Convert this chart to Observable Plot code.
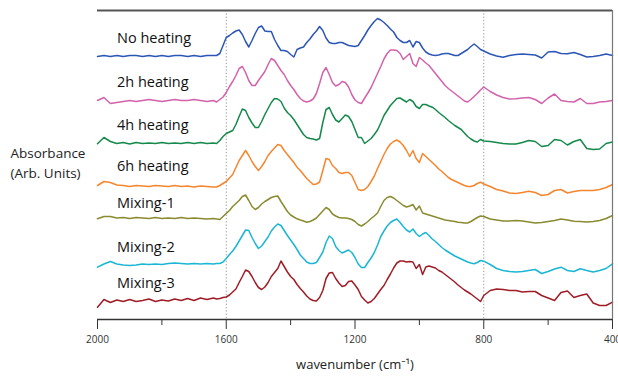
<!DOCTYPE html>
<html><head><meta charset="utf-8">
<script src="https://cdn.jsdelivr.net/npm/d3@7"></script>
<script src="https://cdn.jsdelivr.net/npm/@observablehq/plot@0.6"></script>
<style>html,body{margin:0;padding:0;background:#fff;} svg{display:block}</style>
</head><body><div id="chart"></div>
<script>
const wavenumbers = [
2000,1980,1960,1940,1920,1900,1880,1860,1840,1820,1800,1780,1760,1740,1720,1700,1680,1660,1640,
1630,1620,1610,1600,1590,1580,1570,1560,1550,
1540,1530,1520,1510,1500,1490,1480,1470,1460,1450,
1440,1430,1420,1410,1400,1390,1380,1370,1360,1350,
1340,1330,1320,1310,1300,1290,1280,1270,1260,1250,
1240,1230,1220,1210,1200,1190,1180,1170,1160,1150,
1140,1130,1120,1110,1100,1090,1080,1070,1060,1050,
1040,1030,1020,1010,1000,990,980,970,960,950,
940,930,920,910,900,890,880,870,860,850,
840,830,820,810,800,
780,760,740,720,700,680,660,640,620,600,580,560,540,520,500,480,460,440,420,400];

const noHeating = [
263,264,263,264,263,264,264,263,264,263,264,263,264,264,263,264,263,264,264,
264,266,274,282,284,286.5,288.5,289.5,285,
278,272.5,279,286,292,293.5,288.5,288,288,280,
274,269,269,268,265,262.5,270,271.5,272.5,277,
280.5,285,288.5,293,289,281.5,277,276,276,277,
277,275.5,274,273.5,273,274,279,284,289.5,294,
298,301,299.5,297,294,290.5,287.5,282,279,277,
277,279,272.5,278,277,271.5,267.5,265.5,264.5,264,
264.5,265.5,266,266,265,264,264,266,268,270,
273,275.5,273,270,268.5,
265.5,263.5,262.3,264,265,265.5,265,264.5,261.5,267.5,268,266,265.7,267,265,262.5,263,264,265.5,264];

const heating2h = [
219,222,216,217,218,219,218,219,220,219,218,219,220,219,219,220,219,218,219,
217.5,220,222.5,227,233,238,244,251,253,
247,239,234,234,239,243.5,248,255,261,259,
254,249,245,239,234,230,225,221,218.5,217.5,
218.5,220.5,226,236,247,252,245,237,233.5,235,
238,237,232.5,225,219.5,217,216,221.5,226.5,232,
239,246,253,260.5,266,269.5,269.5,269,266,260,
263,266,256,253,262,259.5,256.5,254,250,246,
242,238,234,231,228.5,226,223.5,221,218.5,217.5,
220,223,226,229.5,232.5,
228,224.5,222,220.5,220.7,221.5,222,220,216,221.5,225.5,219,218,217.5,221,216,216,217.5,218,219];

const heating4h = [
175.7,182,178,176,177,175.5,177,176,176.5,176,177,176,176.5,176,177,176,177,176,176.5,
176,179,183,186,187.5,189,195,203,210.5,
209,202,196.5,192,192,198,205,211,217,221,
220.5,218,211.5,207,204,200,195,190,185,182,
181,180.5,179.5,181,197,210,212,205,199.5,197.5,
201,204.5,203,198,190,182,182,176,178.5,181,
185,189.5,196.5,204,209,214,217.5,221,221.5,219.5,
217.5,220,218,213,211,215,215,213.5,212.3,210,
207,204.5,202,199,196.5,194,192,190,186.5,183,
180.5,178.5,177.5,180,178.5,
178,177,176,175.5,175.5,177,179,178,173,174,180,179,174.5,178,180,171,170,170.5,176,177.5];

const heating6h = [
134,138,137,134.5,134,133,134,133.5,133,134,133.5,133,134,133,133.5,132.5,133.5,133,132.5,
132.5,134,136,138,141.5,145,152,159,164,
169,164,158,153,149,153,158,164,168,171.5,
175,174,169,165,161,157,152.3,149,145,141,
138,135,135.5,137.5,149,161,160,154,151,147,
146,147,147,144,137,130,129,130,133,138,
143.5,151,158,165,171,175.5,178,179.5,177.5,174,
169,163,169,161,157,166,163,160,157,154,
150.5,148,145,142,140,138.5,137,135.5,134,133,
133,134,136,137.3,135.5,
133,130,128.5,126.5,126,127,128.3,127,124,125,129,130,126.5,128,129,129,129,130,132,135];

const mixing1 = [
100.7,103,103,101.5,102,101,102,101.5,101,102,101,101.5,101,102,101,101.5,101,100.5,101,
100.5,100,103,106,109,113,116,119,123,
124.5,119,113,110,112,115.5,118,120,122,123,
123.5,118,113,108,104.5,102.5,100.7,99.5,98.5,97.3,
98,99.5,101.5,105,108.5,112,110,105.5,103.5,102,
101.5,101.5,101,100,98,95,93.5,95.5,98,101,
103.5,106.5,113,119,122,123,121.5,119,116.5,114,
112.5,113.5,115,109.5,113.5,106.5,105.5,104.5,103.5,102.5,
101.5,100.5,99.5,99,98.5,98,97.3,97,96.5,96.5,
98,100,102,103.5,103,
100.5,99.5,98.5,98.5,99,98.5,97.5,96.5,97,98,99,100.5,99.5,98.3,98,97.5,98,99,101,104];

const mixing2 = [
52.3,55.5,58,55.5,54.5,54,54.5,55.5,55,55.5,55,56,56.5,56,55.5,56,55.5,56,55.5,
56,56,57.5,61,65,68.5,73,78.5,84,
89.5,89,82,76,71,73.5,78,82.5,88.5,92.5,
95.5,94,89,84,79.5,75,70,64.5,61,57.5,
56,56,57,62,67.5,77,83.5,81,73,69,
66.5,68,69.5,67,62,55.5,52,52,57,61.5,
67,74.5,83,88.5,93.5,97,99,100.5,97,93,
89.5,87.5,90.5,86,83,85.5,87,84,80.5,78,
75,72,69.5,67.5,65.5,63.5,62,60.5,59,57.5,
56.5,55.7,57,59,58.3,
55,51,49,48,47.5,48,49,50,46,48,50.5,52.3,49,48,50.7,49,47.5,49,51,55.7];

const mixing3 = [
12.3,20,17,19.5,18,20,18,19,20.5,18,19.5,18.5,20.5,19,21,19,21.5,20,21.5,
20.5,21,22,22.5,24.5,27.5,30.5,37,43,
49.5,48,43,37,32,30,32.5,37,43,47,
51,58.5,53,47.5,43,40,35,31,27.5,23.5,
20.5,19,18.5,22,29,41,46.5,47,41,36.5,
33,34,38,38.5,34.5,30,23,19.5,16.5,18,
21,25.5,30,34,40,45.5,51.5,56.5,58.5,58.5,
57.5,58,57.5,51,55,45,52.5,53.5,52.5,51.5,
49,47.5,45,42.5,40,37.5,34.5,32,29.5,27.5,
25.5,23,20.5,18,24,
29,30.5,30,29,29,27.5,28,28,24,21.5,19,27,28.5,22,24,25.5,16.5,14,14,17.3];

const seriesNames = ["No heating", "2h heating", "4h heating", "6h heating", "Mixing-1", "Mixing-2", "Mixing-3"];
const seriesColors = ["#2c56b6", "#d262aa", "#15894a", "#f5862e", "#8a8a30", "#1ab6d3", "#9e1d26"];
const labelLevels = [281, 237, 194, 153.5, 116, 72, 36.5];
const majorTicks = [2000, 1600, 1200, 800, 400];
const minorTicks = [1800, 1400, 1000, 600];
const guideLines = [1600, 800];

const seriesValues = [noHeating, heating2h, heating4h, heating6h, mixing1, mixing2, mixing3];
const rows = seriesValues.flatMap((vals, i) =>
  vals.map((v, j) => ({series: seriesNames[i], wn: wavenumbers[j], a: v})));

const chart = Plot.plot({
  width: 618, height: 376,
  marginLeft: 97, marginRight: 6, marginTop: 10, marginBottom: 57,
  x: {domain: [2000, 400], axis: null},
  y: {domain: [0, 309], axis: null},
  color: {domain: seriesNames, range: seriesColors},
  style: {fontFamily: "'Open Sans', 'Noto Sans', sans-serif", background: "#fff", color: "#222"},
  marks: [
    Plot.ruleX(guideLines, {stroke: "#999", strokeDasharray: "1.3,2", strokeWidth: 1}),
    Plot.lineY(rows, {x: "wn", y: "a", z: "series", stroke: "series", strokeWidth: 1.5}),
    Plot.ruleY([309], {stroke: "#555", strokeWidth: 2}),
    Plot.ruleX([400], {stroke: "#777", strokeWidth: 1.2}),
    Plot.ruleY([0], {stroke: "#333", strokeWidth: 1.5}),
    Plot.axisX(majorTicks, {tickSize: 10, tickPadding: 6, fontSize: 10, tickFormat: d => String(d), label: null, color: "#333"}),
    Plot.axisX(minorTicks, {tickSize: 6, tickFormat: () => "", label: null, color: "#333"}),
    Plot.text(["wavenumber (cm⁻¹)"], {frameAnchor: "bottom", dy: 49, fontSize: 13, fill: "#222"}),
    Plot.text(["Absorbance\n(Arb. Units)"], {frameAnchor: "left", dx: -87, dy: -3.5, textAnchor: "start", lineHeight: 1.48, fontSize: 13.5, fill: "#222"}),
    Plot.text(seriesNames, {frameAnchor: "left", y: labelLevels, dx: 19.5, textAnchor: "start", fontSize: 14.5, fill: "#111"})
  ]
});
document.getElementById("chart").append(chart);
</script>
</body></html>
